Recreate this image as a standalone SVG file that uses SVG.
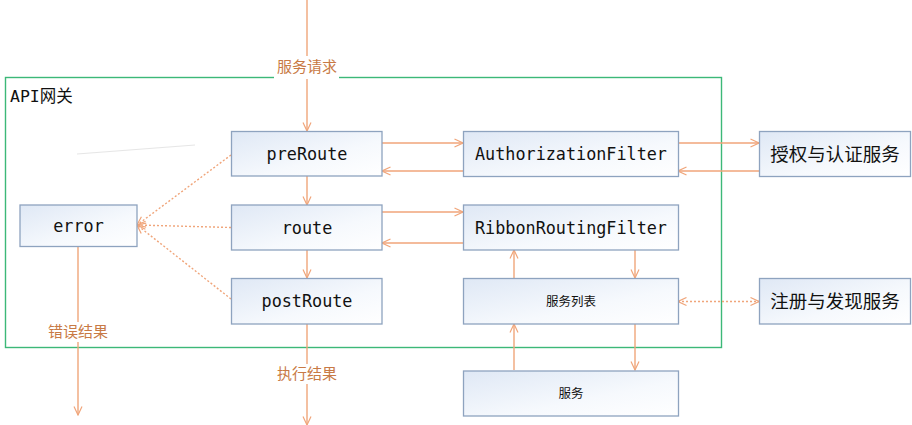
<svg xmlns="http://www.w3.org/2000/svg" width="912" height="425" viewBox="0 0 912 425">
<defs>
<linearGradient id="g" x1="0" y1="0" x2="1" y2="1">
<stop offset="0" stop-color="#dfe8f5"/>
<stop offset="0.6" stop-color="#f6f9fd"/>
<stop offset="1" stop-color="#ffffff"/>
</linearGradient>
<marker id="a" viewBox="0 0 10 10" refX="9.5" refY="5" markerWidth="10" markerHeight="10" markerUnits="userSpaceOnUse" orient="auto-start-reverse">
<path d="M1,1 L9.5,5 L1,9" fill="none" stroke="#f0a57a" stroke-width="1.2"/>
</marker>
<style>
.n{fill:url(#g);stroke:#8ea3bf;stroke-width:1.3}
.t{font-family:"DejaVu Sans Mono","Liberation Mono",monospace;font-size:16.8px;fill:#111;text-anchor:middle}
.c{font-family:"Noto Sans CJK SC","Noto Sans",sans-serif;fill:#111;text-anchor:middle}
.l{fill:none;stroke:#f0a57a;stroke-width:1.4}
.d{fill:none;stroke:#f0a57a;stroke-width:1.4;stroke-dasharray:2,2}
.lb{font-family:"Noto Sans CJK SC","Noto Sans",sans-serif;font-size:15px;fill:#c87a45;text-anchor:middle}
</style>
</defs>
<rect width="912" height="425" fill="#fff"/>
<g id="gateway">
<rect x="5.5" y="77.5" width="716" height="270" fill="none" stroke="#3cb878" stroke-width="1.4"/>
<text x="10" y="102" font-family="DejaVu Sans Mono,'Noto Sans CJK SC',monospace" font-size="16.5px" fill="#111">API<tspan font-family="'Noto Sans CJK SC',sans-serif">网关</tspan></text>
</g>
<path d="M77,154 L195,145" stroke="#e6e6e6" stroke-width="1" fill="none"/>
<g id="connectors">
<path class="l" d="M307,0 V131" marker-end="url(#a)"/>
<path class="l" d="M307,176 V205" marker-end="url(#a)"/>
<path class="l" d="M307,250 V278" marker-end="url(#a)"/>
<path class="l" d="M307,324 V425" marker-end="url(#a)"/>
<path class="l" d="M78,246 V415" marker-end="url(#a)"/>
<path class="l" d="M382,143 H463" marker-end="url(#a)"/>
<path class="l" d="M463,171 H382" marker-end="url(#a)"/>
<path class="l" d="M678,143 H759" marker-end="url(#a)"/>
<path class="l" d="M759,171 H678" marker-end="url(#a)"/>
<path class="l" d="M382,212 H463" marker-end="url(#a)"/>
<path class="l" d="M463,243 H382" marker-end="url(#a)"/>
<path class="l" d="M514,278 V250" marker-end="url(#a)"/>
<path class="l" d="M635,250 V278" marker-end="url(#a)"/>
<path class="l" d="M514,370 V324" marker-end="url(#a)"/>
<path class="l" d="M635,324 V370" marker-end="url(#a)"/>
<path class="d" d="M678,301.5 H759" marker-start="url(#a)" marker-end="url(#a)"/>
<path class="d" d="M231,155 L137,225" marker-end="url(#a)"/>
<path class="d" d="M231,227.5 L137,225" marker-end="url(#a)"/>
<path class="d" d="M231,299 L137,225" marker-end="url(#a)"/>
<rect x="274" y="56" width="65" height="23" fill="#fff"/>
<text class="lb" x="307" y="72">服务请求</text>
<rect x="274" y="364" width="66" height="20" fill="#fff"/>
<text class="lb" x="307" y="379">执行结果</text>
<rect x="45" y="322" width="66" height="20" fill="#fff"/>
<text class="lb" x="78" y="337">错误结果</text>
</g>
<g id="preRoute"><rect class="n" x="231.5" y="131.5" width="150.5" height="44.5"/><text class="t" x="307" y="159.5">preRoute</text></g>
<g id="route"><rect class="n" x="231.5" y="205" width="150.5" height="45"/><text class="t" x="307" y="233.5">route</text></g>
<g id="postRoute"><rect class="n" x="231.5" y="278.5" width="150.5" height="45.5"/><text class="t" x="307" y="306.5">postRoute</text></g>
<g id="error"><rect class="n" x="20" y="205" width="117" height="41.5"/><text class="t" x="78.5" y="231.5">error</text></g>
<g id="AuthorizationFilter"><rect class="n" x="463.5" y="131.5" width="215" height="45"/><text class="t" x="571" y="159.5">AuthorizationFilter</text></g>
<g id="RibbonRoutingFilter"><rect class="n" x="463.5" y="205" width="215" height="45"/><text class="t" x="571" y="233.5">RibbonRoutingFilter</text></g>
<g id="serviceList"><rect class="n" x="463.5" y="278.5" width="215" height="45.5"/><text class="c" x="571" y="306" font-size="12.5px">服务列表</text></g>
<g id="service"><rect class="n" x="463.5" y="371" width="215" height="45"/><text class="c" x="571" y="398" font-size="12.5px">服务</text></g>
<g id="authService"><rect class="n" x="759.5" y="131.5" width="151" height="45"/><text class="c" x="835" y="161" font-size="18.5px">授权与认证服务</text></g>
<g id="registryService"><rect class="n" x="759.5" y="278.5" width="151" height="45.5"/><text class="c" x="835" y="308" font-size="18.5px">注册与发现服务</text></g>
</svg>
